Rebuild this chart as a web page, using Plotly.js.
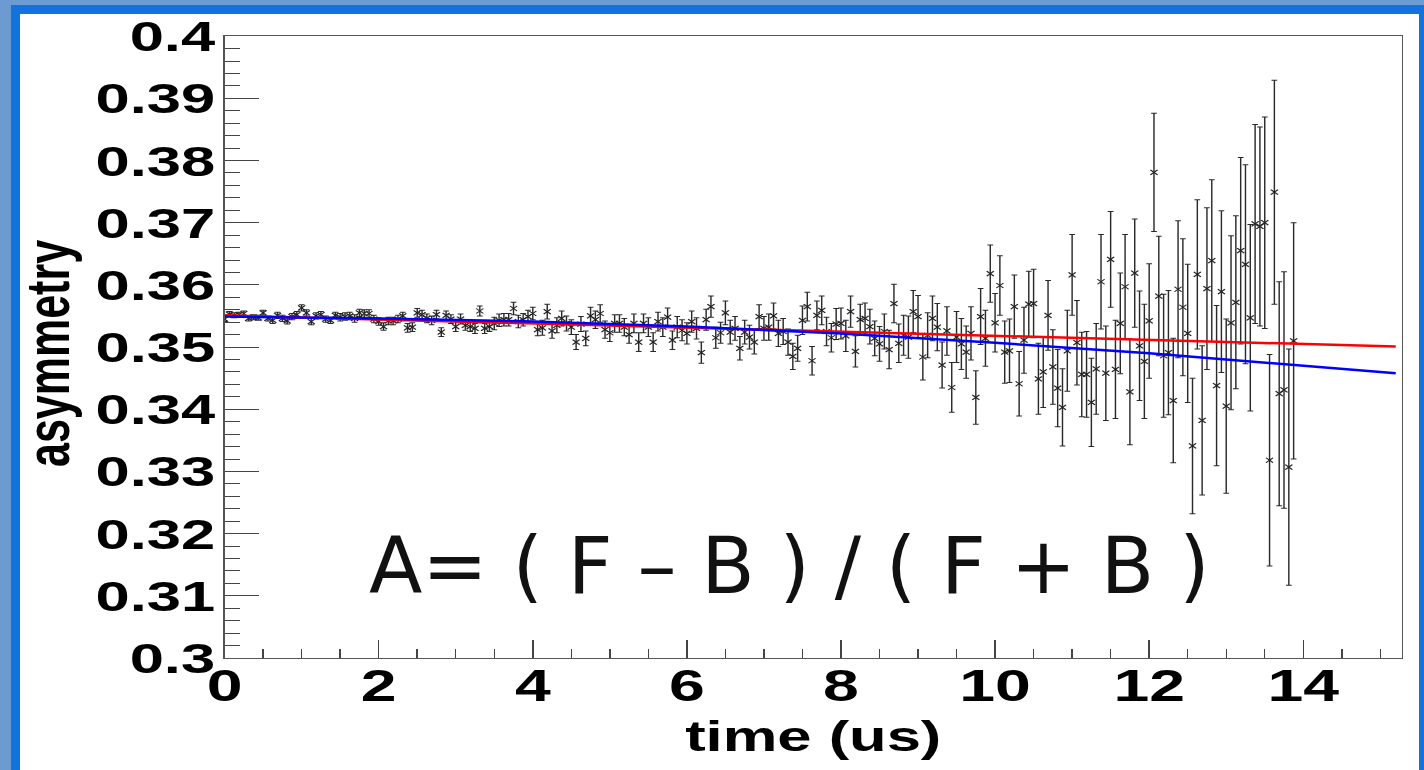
<!DOCTYPE html>
<html><head><meta charset="utf-8">
<script src="https://cdn.plot.ly/plotly-3.0.1.min.js"></script>
<style>
html,body{margin:0;padding:0;width:1424px;height:770px;overflow:hidden;background:#6b9bd1;}
#frame{position:absolute;left:11px;top:5px;width:1413px;height:765px;background:#1273de;}
#panel{position:absolute;left:20px;top:14px;width:1399px;height:756px;background:#fff;}
#plot{position:absolute;left:0;top:0;width:996px;height:770px;transform:scaleX(1.4305);transform-origin:0 0;}
#formula{position:absolute;left:369px;top:527px;font-family:'DejaVu Sans',sans-serif;font-size:78px;line-height:1;color:#111;white-space:pre;}
</style></head>
<body>
<div id="frame"></div>
<div id="panel"></div>
<div id="plot"></div>
<div id="formula">A= ( F – B ) / ( F + B )</div>
<script>
// ---- data ----
const binWidth = 0.0625; // us, spacing of the measured time bins
const asymmetry = [
0.3545,0.3553,0.3551,0.3552,0.3554,0.3546,0.3548,0.3547,0.3555,0.3546,0.3543,0.3551,0.3546,0.3542,0.3549,0.3552,0.3563,0.3555,0.3541,0.3550,0.3552,0.3545,0.3543,0.3551,0.3548,0.3549,0.3550,0.3546,
0.3555,0.3554,0.3554,0.3545,0.3541,0.3533,0.3542,0.3542,0.3545,0.3550,0.3531,0.3532,0.3555,0.3552,0.3546,0.3543,0.3552,0.3524,0.3551,0.3545,0.3533,0.3545,0.3535,0.3533,0.3530,0.3558,0.3530,0.3533,
0.3538,0.3543,0.3544,0.3544,0.3562,0.3541,0.3544,0.3549,0.3554,0.3528,0.3531,0.3557,0.3526,0.3535,0.3546,0.3538,0.3532,0.3508,0.3537,0.3514,0.3550,0.3544,0.3554,0.3528,0.3523,0.3538,0.3538,0.3532,0.3520,
0.3538,0.3508,0.3538,0.3532,0.3508,0.3541,0.3532,0.3548,0.3511,0.3532,0.3527,0.3522,0.3541,0.3530,0.3491,0.3544,0.3565,0.3515,0.3523,0.3555,0.3524,0.3530,0.3498,0.3524,0.3516,0.3508,0.3549,0.3530,
0.3532,0.3550,0.3522,0.3525,0.3508,0.3485,0.3498,0.3543,0.3565,0.3478,0.3551,0.3559,0.3525,0.3515,0.3537,0.3538,0.3518,0.3557,0.3493,0.3544,0.3546,0.3533,0.3514,0.3505,0.3525,0.3496,0.3570,0.3506,
0.3519,0.3516,0.3557,0.3549,0.3484,0.3519,0.3546,0.3532,0.3471,0.3526,0.3435,0.3516,0.3505,0.3492,0.3522,0.3419,0.3549,0.3514,0.3618,0.3539,0.3599,0.3492,0.3494,0.3565,0.3441,0.3511,0.3569,0.3570,0.3449,0.3460,0.3551,0.3468,0.3434,0.3403,0.3494,0.3616,0.3507,0.3456,0.3456,0.3411,0.3465,0.3605,0.3458,0.3641,0.3464,0.3538,0.3597,0.3428,0.3619,0.3502,0.3477,0.3542,
0.3781,0.3582,0.3486,0.3491,0.3414,0.3593,0.3564,0.3522,0.3341,0.3617,0.3382,0.3594,0.3639,0.3438,0.3589,0.3405,0.3539,0.3572,0.3655,0.3633,0.3547,0.3698,0.3694,0.3700,0.3318,0.3749,0.3425,0.3431,0.3307,0.3510
];
const asymmetryErr = [
0.0004,0.0004,0.0004,0.0004,0.0004,0.0004,0.0004,0.0004,0.0004,0.0004,0.0005,0.0005,0.0005,0.0005,0.0005,0.0005,0.0005,0.0005,0.0005,0.0005,0.0005,0.0005,0.0005,0.0005,0.0006,0.0006,0.0006,0.0006,
0.0006,0.0006,0.0006,0.0006,0.0006,0.0006,0.0006,0.0006,0.0006,0.0006,0.0007,0.0007,0.0007,0.0007,0.0007,0.0007,0.0007,0.0007,0.0007,0.0007,0.0008,0.0008,0.0008,0.0008,0.0008,0.0008,0.0008,0.0008,
0.0010,0.0010,0.0010,0.0010,0.0010,0.0010,0.0010,0.0010,0.0010,0.0010,0.0012,0.0012,0.0012,0.0012,0.0012,0.0012,0.0012,0.0012,0.0012,0.0012,0.0014,0.0014,0.0014,0.0014,0.0014,0.0014,0.0014,0.0014,0.0014,
0.0015,0.0015,0.0015,0.0015,0.0015,0.0015,0.0015,0.0015,0.0015,0.0017,0.0017,0.0017,0.0017,0.0017,0.0017,0.0017,0.0017,0.0017,0.0017,0.0019,0.0019,0.0019,0.0019,0.0019,0.0019,0.0019,0.0019,0.0019,
0.0021,0.0021,0.0021,0.0021,0.0021,0.0021,0.0021,0.0023,0.0023,0.0023,0.0023,0.0023,0.0023,0.0023,0.0025,0.0025,0.0025,0.0025,0.0025,0.0025,0.0025,0.0028,0.0028,0.0028,0.0028,0.0031,0.0031,0.0031,
0.0032,0.0034,0.0034,0.0034,0.0037,0.0036,0.0036,0.0038,0.0037,0.0039,0.0040,0.0041,0.0041,0.0042,0.0043,0.0043,0.0045,0.0045,0.0046,0.0047,0.0048,0.0050,0.0051,0.0051,0.0052,0.0053,0.0053,0.0055,0.0057,0.0057,0.0056,0.0060,0.0062,0.0062,0.0065,0.0065,0.0068,0.0068,0.0069,0.0071,0.0073,0.0076,0.0076,0.0077,0.0079,0.0081,0.0084,0.0085,0.0087,0.0088,0.0092,0.0092,
0.0095,0.0096,0.0099,0.0100,0.0100,0.0110,0.0110,0.0111,0.0109,0.0120,0.0120,0.0130,0.0130,0.0129,0.0130,0.0140,0.0140,0.0139,0.0150,0.0160,0.0150,0.0160,0.0160,0.0170,0.0170,0.0180,0.0180,0.0190,0.0190,0.0190
];
// fit curves
const redFitTime = [0, 4, 8, 12, 15.2];
const redFitValue = [0.3551, 0.3538, 0.3525, 0.3512, 0.3501];
const blueFitTime = [0, 2, 4, 6, 8, 10, 12, 14, 15.2];
const blueFitValue = [0.3549, 0.3546, 0.3541, 0.3533, 0.3522, 0.3507, 0.3490, 0.3470, 0.3458];
// ticks
const xTickVals = [0, 2, 4, 6, 8, 10, 12, 14];
const xTickText = ["0", "2", "4", "6", "8", "10", "12", "14"];
const yTickVals = [0.3, 0.31, 0.32, 0.33, 0.34, 0.35, 0.36, 0.37, 0.38, 0.39, 0.4];
const yTickText = ["0.3", "0.31", "0.32", "0.33", "0.34", "0.35", "0.36", "0.37", "0.38", "0.39", "0.4"];

const time = asymmetry.map((_, i) => i * binWidth);

const labelFont = {family: 'Liberation Sans, Arial, sans-serif', size: 43, color: '#000', weight: 'bold'};
const titleFont = {family: 'Liberation Sans, Arial, sans-serif', size: 43, color: '#000', weight: 'bold'};

const traces = [
  {x: time, y: asymmetry, type: 'scatter', mode: 'markers',
   marker: {symbol: 'x-thin-open', size: 5, color: '#222', line: {width: 1, color: '#222'}},
   error_y: {type: 'data', array: asymmetryErr, visible: true, color: '#2a2a2a', thickness: 1, width: 2},
   hoverinfo: 'skip'},
  {x: redFitTime, y: redFitValue, type: 'scatter', mode: 'lines', line: {color: '#ff0000', width: 2.5}},
  {x: blueFitTime, y: blueFitValue, type: 'scatter', mode: 'lines', line: {color: '#0000ff', width: 2.5}}
];

const layout = {
  width: 996, height: 770,
  margin: {l: 157, r: 16, t: 36, b: 112, pad: 0},
  paper_bgcolor: 'rgba(0,0,0,0)', plot_bgcolor: '#fff',
  showlegend: false,
  xaxis: {
    range: [0, 15.28], tickmode: 'array', tickvals: xTickVals, ticktext: xTickText,
    ticks: 'inside', ticklen: 18, tickwidth: 1, tickcolor: '#444',
    minor: {ticks: 'inside', ticklen: 9, tickwidth: 1, tickcolor: '#444', tickmode: 'linear', tick0: 0, dtick: 0.5, showgrid: false},
    showline: true, linecolor: '#555', linewidth: 1, mirror: true,
    showgrid: false, zeroline: false, automargin: false,
    tickfont: Object.assign({}, labelFont, {size: 45}), ticklabelstandoff: -12, ticklabeloverflow: 'allow',
    title: {text: 'time (us)', font: titleFont, standoff: 10}
  },
  yaxis: {
    range: [0.3, 0.40002], tickmode: 'array', tickvals: yTickVals, ticktext: yTickText,
    ticks: 'inside', ticklen: 24, tickwidth: 1, tickcolor: '#444',
    minor: {ticks: 'inside', ticklen: 11, tickwidth: 1, tickcolor: '#444', tickmode: 'linear', tick0: 0.3, dtick: 0.002, showgrid: false},
    showline: true, linecolor: '#555', linewidth: 1, mirror: true,
    showgrid: false, zeroline: false, automargin: false,
    tickfont: labelFont, ticklabelstandoff: -3, ticklabeloverflow: 'allow'
  },
  annotations: [{
    text: 'asymmetry', font: titleFont, textangle: -90, showarrow: false,
    xref: 'paper', yref: 'paper', x: 0, y: 0.5, xanchor: 'center', yanchor: 'middle',
    xshift: -124, yshift: -7
  }]
};

Plotly.newPlot('plot', traces, layout, {staticPlot: true, displayModeBar: false});
</script>
</body></html>
